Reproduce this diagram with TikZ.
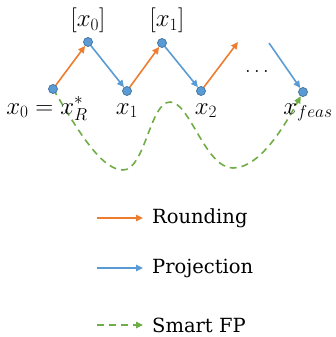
\documentclass[tikz,border=0pt]{standalone}
\usepackage{fontspec}
\newfontfamily\legendfont{DejaVu Serif}
\usetikzlibrary{arrows.meta}
\pgfdeclarelayer{background}
\pgfsetlayers{background,main}
\definecolor{rndorange}{HTML}{ED7D31}
\definecolor{projblue}{HTML}{5B9BD5}
\definecolor{dotedge}{HTML}{41719C}
\definecolor{fpgreen}{HTML}{70AD47}
\begin{document}
\begin{tikzpicture}[x=1pt,y=-1pt,
  pt/.style={circle,fill=projblue,draw=dotedge,line width=0.7pt,inner sep=0pt,minimum size=9pt},
  lab/.style={anchor=base,inner sep=0pt,font=\fontsize{24}{28}\selectfont},
  tip/.style={-{Triangle[length=7pt,width=6.5pt]}},
  rnd/.style={tip,draw=rndorange,line width=1.6pt},
  proj/.style={tip,draw=projblue,line width=1.6pt},
  sfp/.style={tip,draw=fpgreen,line width=1.6pt,dash pattern=on 7pt off 5pt},
  leg/.style={anchor=west,inner sep=0pt,font=\legendfont\fontsize{19.5}{23}\selectfont}]
\useasboundingbox (0,0) rectangle (335,337);
% points
\node[pt] (p0) at (53,89) {};
\node[pt] (r0) at (88,42) {};
\node[pt] (p1) at (127,91) {};
\node[pt] (r1) at (162,43) {};
\node[pt] (p2) at (201,91) {};
\node[pt] (pf) at (303,92) {};
\coordinate (r2) at (238,42);
\coordinate (rk) at (269,43);
% labels
\node[lab] (l0) at (47,114) {$x_0=x_R^*$};
\node[lab] (l1) at (127,114) {$x_1$};
\node[lab] (l2) at (206,114) {$x_2$};
\node[lab] (lf) at (308,114) {$x_{feas}$};
\node[lab] (lr0) at (88,27) {$[x_0]$};
\node[lab] (lr1) at (167,27) {$[x_1]$};
\node[lab,font=\fontsize{20}{24}\selectfont] (dots) at (257,72) {$\dots$};
\begin{pgfonlayer}{background}
% green smart FP curve
\draw[sfp] (p0.center) .. controls (75,125) and (100,170) .. (123,170)
  .. controls (145,170) and (150,102) .. (170,102)
  .. controls (190,102) and (205,168) .. (233,168)
  .. controls (260,168) and (285,125) .. (pf);
% arrows
\draw[rnd] (p0) -- (r0);
\draw[proj] (r0) -- (p1);
\draw[rnd] (p1) -- (r1);
\draw[proj] (r1) -- (p2);
\draw[rnd] (p2) -- (r2);
\draw[proj] (rk) -- (pf);
\end{pgfonlayer}
% legend
\coordinate (a1) at (97,218); \coordinate (b1) at (143,218);
\coordinate (a2) at (97,268); \coordinate (b2) at (143,268);
\coordinate (a3) at (97,325); \coordinate (b3) at (143,325);
\draw[rnd] (a1) -- (b1);
\draw[proj] (a2) -- (b2);
\draw[sfp] (a3) -- (b3);
\node[leg] (t1) at (152,218) {Rounding};
\node[leg] (t2) at (152,268) {Projection};
\node[leg] (t3) at (152,325) {Smart FP};
\end{tikzpicture}
\end{document}
